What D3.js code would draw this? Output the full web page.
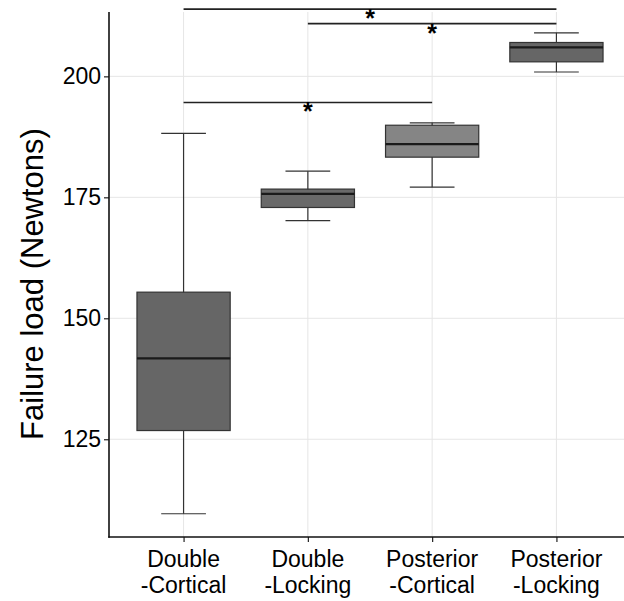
<!DOCTYPE html>
<html lang="en">
<head>
	<meta charset="UTF-8">
	<title>Failure load</title>
	<script src="https://cdn.jsdelivr.net/npm/d3@7"></script>
	<style>
		body{ margin:0; background:#fff; }
		text{ font-family:"Liberation Sans", Arial, sans-serif; fill:#000; }
	</style>
</head>
<body>
	<svg id="svg"></svg>
	<script>
		// box statistics
		var categories = ["Double-Cortical", "Double-Locking", "Posterior-Cortical", "Posterior-Locking"];
		var whiskerLow = [109.6, 170.2, 177.1, 200.9];
		var q1 = [126.8, 172.9, 183.3, 203.0];
		var median = [141.7, 175.7, 186.0, 206.0];
		var q3 = [155.4, 176.7, 189.9, 207.0];
		var whiskerHigh = [188.2, 180.4, 190.4, 209.0];
		var yTicks = [125, 150, 175, 200];

		// significance brackets
		var compFrom = ["Double-Cortical", "Double-Locking", "Double-Cortical"];
		var compTo = ["Posterior-Locking", "Posterior-Locking", "Posterior-Cortical"];
		var compLevel = [213.9, 210.9, 194.6];
		var compLabel = ["*", "*", "*"];

		var w = 624,
			h = 601,
			mLeft = 109,
			mTop = 12,
			mBottom = 537,
			svg = d3.select("#svg").attr("width", w).attr("height", h);

		var x = d3.scalePoint()
			.domain(categories)
			.range([mLeft, 631])
			.padding(0.6);
		var step = x.step();
		var y = d3.scaleLinear()
			.domain([104.8, 213.3])
			.range([mBottom, mTop]);
		var fill = d3.scaleOrdinal()
			.domain(categories)
			.range(["#666666", "#696969", "#858585", "#666666"]);

		var boxes = categories.map(function(c, i) {
			return {cat: c, lo: whiskerLow[i], q1: q1[i], med: median[i], q3: q3[i], hi: whiskerHigh[i]};
		});

		// grid
		svg.append("g").selectAll("line")
			.data(yTicks).enter().append("line")
			.attr("x1", mLeft).attr("x2", w)
			.attr("y1", function(d) { return y(d); })
			.attr("y2", function(d) { return y(d); })
			.attr("stroke", "#e6e6e6").attr("stroke-width", 1);
		svg.append("g").selectAll("line")
			.data(categories).enter().append("line")
			.attr("x1", function(d) { return x(d); })
			.attr("x2", function(d) { return x(d); })
			.attr("y1", mTop).attr("y2", mBottom)
			.attr("stroke", "#e6e6e6").attr("stroke-width", 1);

		// boxes
		var g = svg.append("g").selectAll("g")
			.data(boxes).enter().append("g");
		g.append("line")
			.attr("x1", function(d) { return x(d.cat); })
			.attr("x2", function(d) { return x(d.cat); })
			.attr("y1", function(d) { return y(d.lo); })
			.attr("y2", function(d) { return y(d.hi); })
			.attr("stroke", "#333").attr("stroke-width", 1.2);
		g.selectAll(".cap")
			.data(function(d) { return [{cat: d.cat, v: d.lo}, {cat: d.cat, v: d.hi}]; })
			.enter().append("line")
			.attr("x1", function(d) { return x(d.cat) - step * 0.18; })
			.attr("x2", function(d) { return x(d.cat) + step * 0.18; })
			.attr("y1", function(d) { return y(d.v); })
			.attr("y2", function(d) { return y(d.v); })
			.attr("stroke", "#333").attr("stroke-width", 1.2);
		g.append("rect")
			.attr("x", function(d) { return x(d.cat) - step * 0.375; })
			.attr("width", step * 0.75)
			.attr("y", function(d) { return y(d.q3); })
			.attr("height", function(d) { return y(d.q1) - y(d.q3); })
			.attr("fill", function(d) { return fill(d.cat); })
			.attr("stroke", "#333").attr("stroke-width", 1.2);
		g.append("line")
			.attr("x1", function(d) { return x(d.cat) - step * 0.375; })
			.attr("x2", function(d) { return x(d.cat) + step * 0.375; })
			.attr("y1", function(d) { return y(d.med); })
			.attr("y2", function(d) { return y(d.med); })
			.attr("stroke", "#1a1a1a").attr("stroke-width", 2.2);

		// axes
		var ya = svg.append("g")
			.attr("transform", "translate(" + mLeft + ",0)")
			.call(d3.axisLeft(y).tickValues(yTicks).tickSize(5).tickPadding(3));
		ya.select(".domain").remove();
		ya.selectAll("line").attr("stroke", "#222").attr("stroke-width", 1.2);
		ya.selectAll("text").attr("font-size", 23).attr("font-family", "Liberation Sans, Arial, sans-serif").attr("fill", "#000");
		svg.append("line")
			.attr("x1", mLeft).attr("x2", mLeft)
			.attr("y1", mTop).attr("y2", mBottom + 0.75)
			.attr("stroke", "#111").attr("stroke-width", 1.6);

		var xa = svg.append("g")
			.attr("transform", "translate(0," + mBottom + ")")
			.call(d3.axisBottom(x).tickSize(5).tickFormat(""));
		xa.select(".domain").remove();
		xa.selectAll("line").attr("stroke", "#222").attr("stroke-width", 1.2);
		svg.append("line")
			.attr("x1", mLeft - 0.75).attr("x2", w)
			.attr("y1", mBottom).attr("y2", mBottom)
			.attr("stroke", "#111").attr("stroke-width", 1.6);

		var lab = svg.append("g").selectAll("text")
			.data(categories).enter().append("text")
			.attr("x", function(d) { return x(d); })
			.attr("text-anchor", "middle")
			.attr("font-size", 23);
		lab.append("tspan")
			.attr("x", function(d) { return x(d); })
			.attr("y", 567)
			.text(function(d) { return d.split("-")[0]; });
		lab.append("tspan")
			.attr("x", function(d) { return x(d); })
			.attr("y", 593)
			.text(function(d) { return "-" + d.split("-")[1]; });

		svg.append("text")
			.attr("transform", "translate(43,284) rotate(-90)")
			.attr("text-anchor", "middle")
			.attr("font-size", 31)
			.text("Failure load (Newtons)");

		// significance brackets
		var comps = compFrom.map(function(f, i) {
			return {a: f, b: compTo[i], v: compLevel[i], t: compLabel[i]};
		});
		var cg = svg.append("g").selectAll("g")
			.data(comps).enter().append("g");
		cg.append("line")
			.attr("x1", function(d) { return x(d.a); })
			.attr("x2", function(d) { return x(d.b); })
			.attr("y1", function(d) { return y(d.v); })
			.attr("y2", function(d) { return y(d.v); })
			.attr("stroke", "#222").attr("stroke-width", 1.6);
		cg.append("text")
			.attr("x", function(d) { return (x(d.a) + x(d.b)) / 2; })
			.attr("y", function(d) { return y(d.v) + 18; })
			.attr("text-anchor", "middle")
			.attr("font-size", 25)
			.attr("font-weight", "bold")
			.text(function(d) { return d.t; });
	</script>
</body>
</html>
